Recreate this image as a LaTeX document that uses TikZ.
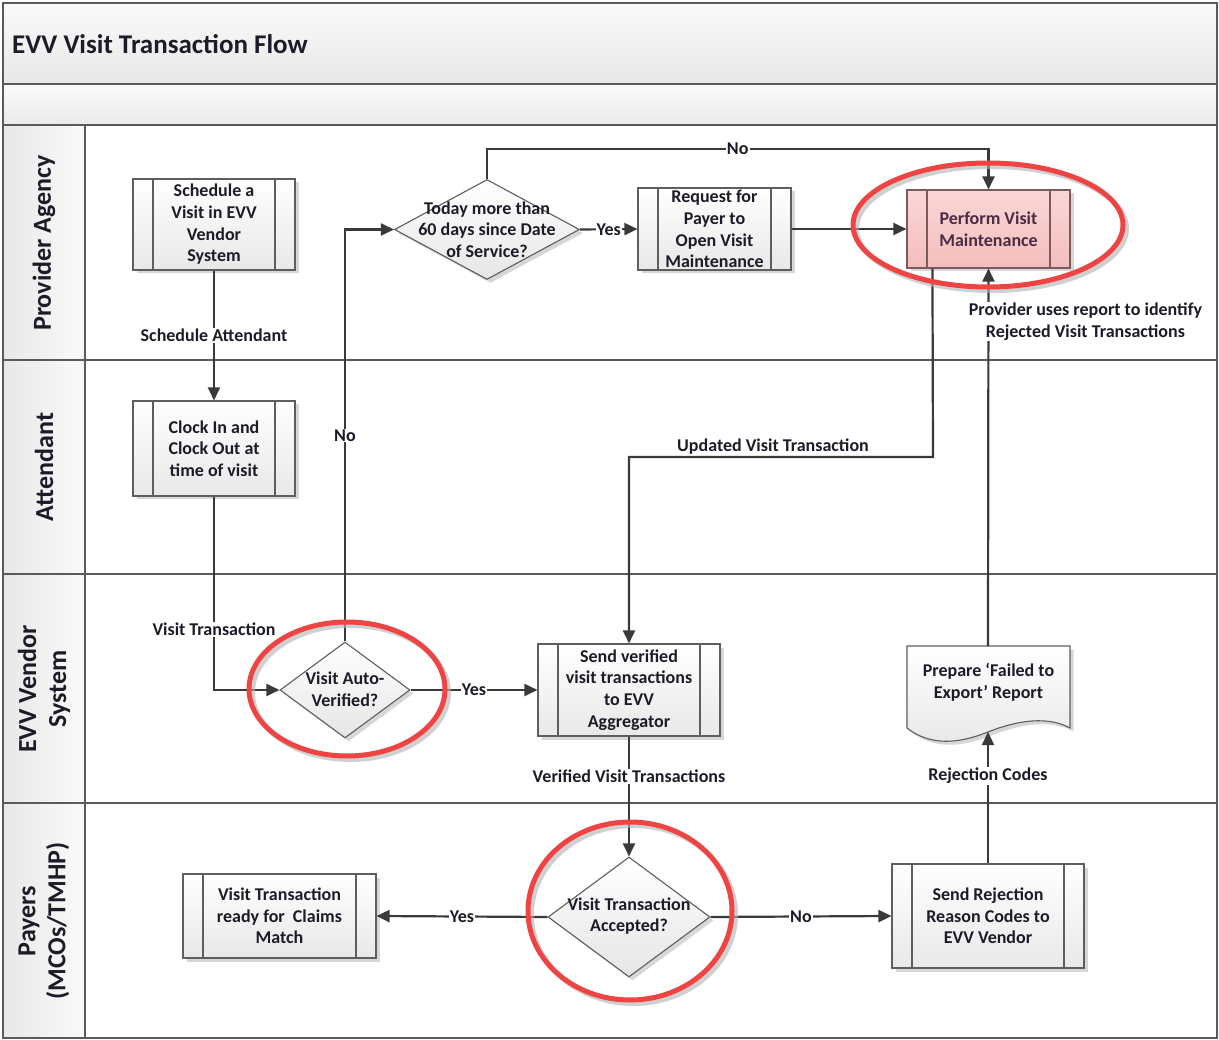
\documentclass[tikz,border=0pt]{standalone}
\usepackage{fontspec}
\setmainfont{Carlito}
\usetikzlibrary{arrows.meta,shapes.geometric,shadows}
\definecolor{ln}{HTML}{3A3A3A}
\definecolor{bx}{HTML}{5E5E5E}
\definecolor{lanec}{HTML}{5A5A5A}
\definecolor{redring}{HTML}{EE4444}
\definecolor{pinktop}{HTML}{FBD6D6}
\definecolor{pinkbot}{HTML}{F4BDBD}
\definecolor{pinkln}{HTML}{7A5A5A}
\definecolor{txt}{HTML}{1C1C28}
\definecolor{ptxt}{HTML}{4A2C44}
\newcommand{\bodyf}{\bfseries\fontsize{18}{21.7}\selectfont}
\newcommand{\titlef}{\bfseries\fontsize{27}{32}\selectfont}
\newcommand{\lanef}{\bfseries\fontsize{26}{30}\selectfont}
\begin{document}
\begin{tikzpicture}[x=1pt,y=-1pt,
  shad/.style={drop shadow={shadow xshift=3.5pt,shadow yshift=-3.5pt,fill=black!22,opacity=0.7}},
  proc/.style={shad,rectangle,draw=bx,line width=1.1pt,top color=white,bottom color=black!9,
    align=center,font=\bodyf,text=txt,inner xsep=1pt,inner ysep=0pt,
    path picture={\draw[bx,line width=1.1pt]
      ([xshift=20pt]path picture bounding box.north west)--([xshift=20pt]path picture bounding box.south west)
      ([xshift=-20pt]path picture bounding box.north east)--([xshift=-20pt]path picture bounding box.south east);}},
  pinkproc/.style={proc,draw=pinkln,top color=pinktop,bottom color=pinkbot,text=ptxt,
    path picture={\draw[pinkln,line width=1.1pt]
      ([xshift=20pt]path picture bounding box.north west)--([xshift=20pt]path picture bounding box.south west)
      ([xshift=-20pt]path picture bounding box.north east)--([xshift=-20pt]path picture bounding box.south east);}},
  dia/.style={shad,diamond,draw=bx,line width=1.1pt,top color=white,bottom color=black!10,inner sep=0pt},
  dtxt/.style={align=center,font=\bodyf,text=txt,inner sep=0pt},
  arr/.style={draw=ln,line width=2.2pt,-{Triangle[length=13pt,width=12pt]}},
  lbl/.style={fill=white,font=\bodyf,text=txt,inner sep=1pt,align=center},
  lane/.style={draw=lanec,line width=1.3pt},
  lanelbl/.style={rotate=90,font=\lanef,text=txt,align=center,inner sep=0pt},
  ring/.style={draw=redring,line width=5pt},
  ringsh/.style={draw=black!30,line width=5pt,opacity=0.6}
]
\useasboundingbox (0,0) rectangle (1219,1040);
% backgrounds
\fill[white] (3,3) rectangle (1217,1038);
\fill[top color=black!2,bottom color=black!9] (3,3) rectangle (1217,84);
\fill[top color=black!2,bottom color=black!8] (3,84) rectangle (1217,125);
\fill[left color=black!9,right color=black!2] (3,125) rectangle (85,1038);
% lanes
\draw[lane] (3,84) -- (1217,84);
\draw[lane] (3,125) -- (1217,125);
\draw[lane] (3,360) -- (1217,360);
\draw[lane] (3,574) -- (1217,574);
\draw[lane] (3,803) -- (1217,803);
\draw[lane] (85,125) -- (85,1038);
\draw[lane] (3,3) rectangle (1217,1038);
% title and lane labels
\node[anchor=west,font=\titlef,text=txt,inner sep=0pt] (title) at (12,44) {EVV Visit Transaction Flow};
\node[lanelbl] (lpa) at (44,243) {Provider Agency};
\node[lanelbl] (lat) at (44,467) {Attendant};
\node[lanelbl] (lev) at (44,689) {EVV Vendor\\System};
\node[lanelbl] (lpy) at (44,921) {Payers\\(MCOs/TMHP)};
% process boxes
\node[proc,minimum width=162pt,minimum height=91pt] (sched) at (214,224.5) {Schedule a\\Visit in EVV\\Vendor\\System};
\node[proc,minimum width=162pt,minimum height=95pt] (clock) at (214,448.5) {Clock In and\\Clock Out at\\time of visit};
\node[proc,minimum width=153pt,minimum height=82pt,inner ysep=-3pt] (request) at (714.5,229) {Request for\\Payer to\\Open Visit\\Maintenance};
\node[pinkproc,minimum width=163pt,minimum height=78pt] (perform) at (988.5,229) {Perform Visit\\Maintenance};
\node[proc,minimum width=182pt,minimum height=92pt] (sendv) at (629,690) {Send verified\\visit transactions\\to EVV\\Aggregator};
\node[proc,minimum width=193pt,minimum height=84pt] (claims) at (279.5,916) {Visit Transaction\\ready for~ Claims\\Match};
\node[proc,minimum width=192pt,minimum height=104pt] (reject) at (988,916) {Send Rejection\\Reason Codes to\\EVV Vendor};
% document shape
\path[shad,draw=bx,line width=1.1pt,top color=white,bottom color=black!9]
  (907,646) -- (1070,646) -- (1070,728)
  .. controls (1048,716) and (1018,720) .. (988,732)
  .. controls (958,744) and (930,746) .. (907,728) -- cycle;
\node[dtxt] (prep) at (988.5,682) {Prepare ‘Failed to\\Export’ Report};
\coordinate (preptop) at (988,646);
\coordinate (prepbot) at (988,732);
% diamonds
\node[dia,minimum width=185pt,minimum height=100pt] (today) at (487,229.5) {};
\node[dtxt] (todayt) at (487,229.5) {Today more than\\60 days since Date\\of Service?};
\node[dia,minimum width=130pt,minimum height=96pt] (autov) at (345,690) {};
\node[dtxt] (autovt) at (345,689.5) {Visit Auto-\\Verified?};
\node[dia,minimum width=162pt,minimum height=120pt] (accept) at (629,917) {};
\node[dtxt] (acceptt) at (629,916) {Visit Transaction\\Accepted?};
% helper coordinates
\coordinate (c1) at (487,149);
\coordinate (u1) at (933,457);
\coordinate (u2) at (629,457);
% connectors
\draw[arr] (sched.south) -- node[lbl]{Schedule Attendant} (clock.north);
\draw[arr] (clock.south) |- node[lbl,pos=0.343]{Visit Transaction} (autov.west);
\draw[arr] (autov.north) |- node[lbl,pos=0.25]{No} (today.west);
\draw[arr] (today.east) -- node[lbl]{Yes} (request.west);
\draw[arr] (today.north) -- (c1) -| node[lbl,pos=0.25]{No} (perform.north);
\draw[arr] (request.east) -- (perform.west);
\draw[arr] ([xshift=26pt]perform.south west) -- (u1) -- node[above,font=\bodyf,text=txt,inner sep=2pt,xshift=-8pt]{Updated Visit Transaction} (u2) -- (sendv.north);
\draw[arr] (autov.east) -- node[lbl]{Yes} (sendv.west);
\draw[arr] (sendv.south) -- node[lbl,pos=0.33]{Verified Visit Transactions} (accept.north);
\draw[arr] (accept.west) -- node[lbl]{Yes} (claims.east);
\draw[arr] (accept.east) -- node[lbl]{No} (reject.west);
\draw[arr] (reject.north) -- node[lbl,pos=0.667]{Rejection Codes} (prepbot);
\draw[arr] (preptop) -- node[lbl,pos=0.86,xshift=97pt]{Provider uses report to identify\\Rejected Visit Transactions} (perform.south);
% red rings
\draw[ringsh] (991.5,228.5) ellipse [x radius=135pt,y radius=62pt];
\draw[ring] (988,225) ellipse [x radius=135pt,y radius=62pt];
\draw[ringsh] (350.5,692.5) ellipse [x radius=98pt,y radius=67pt];
\draw[ring] (347,689) ellipse [x radius=98pt,y radius=67pt];
\draw[ringsh] (633.5,914.5) ellipse [x radius=102pt,y radius=89pt];
\draw[ring] (630,911) ellipse [x radius=102pt,y radius=89pt];
\end{tikzpicture}
\end{document}
